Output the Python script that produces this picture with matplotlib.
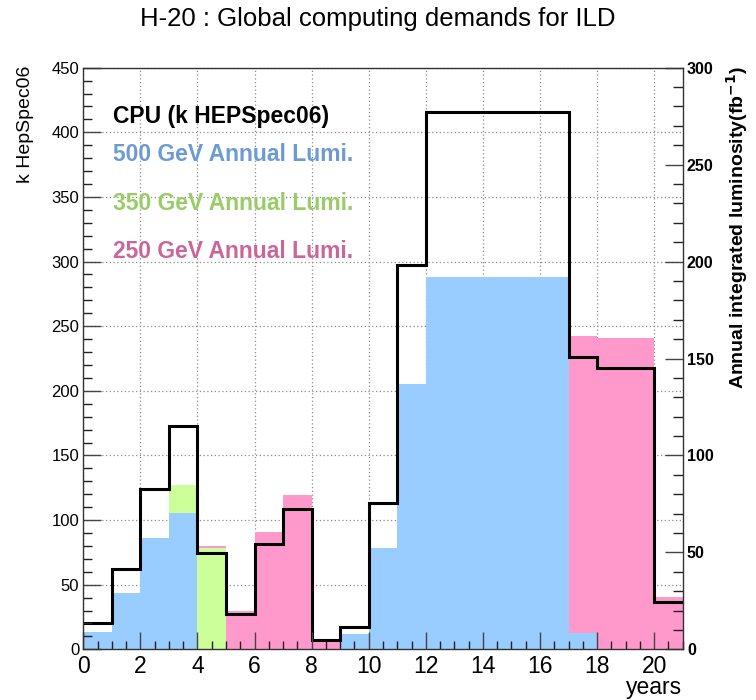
import numpy as np
import matplotlib.pyplot as plt
from matplotlib.ticker import MultipleLocator

plt.rcParams['font.family'] = ['Liberation Sans', 'DejaVu Sans']

# bin left edges (years) and per-bin values
years = list(range(21))
edges = list(range(22))

# annual integrated luminosity, fb^-1 (right axis)
lumi_500 = [9.1, 28.8, 57.4, 70.5, 0, 0, 0, 0, 0, 7.9, 52.3, 137.0,
            192.2, 192.2, 192.2, 192.2, 192.2, 8.6, 0, 0, 0]
lumi_350 = [0, 0, 0, 14.1, 52.4, 0, 0, 0, 0, 0, 0, 0,
            0, 0, 0, 0, 0, 0, 0, 0, 0]
lumi_250 = [0, 0, 0, 0, 0.7, 20.0, 60.3, 79.8, 4.5, 0, 0, 0,
            0, 0, 0, 0, 0, 152.8, 160.4, 160.4, 27.0]

# CPU, k HEPSpec06 (left axis)
cpu = [20.2, 62.3, 124.2, 172.7, 74.5, 27.6, 81.7, 108.6, 7.5, 17.3, 113.3, 297.4,
       415.6, 415.6, 415.6, 415.6, 415.6, 225.8, 217.3, 217.3, 36.7]

c_blue = '#99ccff'
c_green = '#ccff99'
c_pink = '#ff99cc'

fig = plt.figure(figsize=(7.56, 7.0), dpi=100)
rect = [0.1102, 0.0724, 0.7929, 0.8309]

# background layer: only the dotted grid
bg = fig.add_axes(rect, zorder=0)
bg.set_xlim(0, 21)
bg.set_ylim(0, 450)
bg.set_xticks(np.arange(0, 21, 2))
bg.set_yticks(np.arange(0, 451, 50))
bg.grid(True, color='#8c8c8c', linestyle=(0, (1, 2)), linewidth=0.9)
bg.tick_params(length=0, labelleft=False, labelbottom=False)
for s in bg.spines.values():
    s.set_visible(False)

# luminosity layer (right axis)
ax2 = fig.add_axes(rect, zorder=1)
ax2.patch.set_visible(False)
b350 = np.array(lumi_500)
b250 = b350 + np.array(lumi_350)
ax2.bar(years, lumi_500, width=1, align='edge', color=c_blue, linewidth=0, antialiased=False)
ax2.bar(years, lumi_350, width=1, align='edge', bottom=b350, color=c_green, linewidth=0, antialiased=False)
ax2.bar(years, lumi_250, width=1, align='edge', bottom=b250, color=c_pink, linewidth=0, antialiased=False)
ax2.set_xlim(0, 21)
ax2.set_ylim(0, 300)
ax2.xaxis.set_visible(False)
ax2.yaxis.tick_right()
ax2.yaxis.set_major_locator(MultipleLocator(50))
ax2.yaxis.set_minor_locator(MultipleLocator(10))
ax2.tick_params(axis='y', which='major', direction='in', length=13, width=1, color='#444444',
                labelsize=11.5, pad=3)
ax2.tick_params(axis='y', which='minor', direction='in', length=7, width=1, color='#222222')
for lab in ax2.get_yticklabels():
    lab.set_fontweight('bold')
for s in ax2.spines.values():
    s.set_visible(False)

# CPU layer (left axis) with the frame
ax = fig.add_axes(rect, zorder=2)
ax.patch.set_visible(False)
ax.stairs(cpu, edges, color='black', linewidth=2.2, baseline=None)
ax.set_xlim(0, 21)
ax.set_ylim(0, 450)
ax.xaxis.set_major_locator(MultipleLocator(2))
ax.xaxis.set_minor_locator(MultipleLocator(0.5))
ax.yaxis.set_major_locator(MultipleLocator(50))
ax.yaxis.set_minor_locator(MultipleLocator(10))
ax.tick_params(axis='both', which='major', direction='in', length=13, width=1, color='#444444')
ax.tick_params(axis='both', which='minor', direction='in', length=6.5, width=1, color='#222222')
ax.tick_params(axis='x', which='major', length=12, labelsize=16.5, pad=4)
ax.tick_params(axis='x', which='minor', length=5.5)
ax.tick_params(axis='y', labelsize=12, pad=3)
for s in ax.spines.values():
    s.set_linewidth(1)
    s.set_color('#333333')

ax.text(0.05, 0.9157, 'CPU (k HEPSpec06)', transform=ax.transAxes, fontsize=16.5,
        fontweight='bold', color='black', va='center')
ax.text(0.05, 0.8499, '500 GeV Annual Lumi.', transform=ax.transAxes, fontsize=16.5,
        fontweight='bold', color='#6b9bd2', va='center')
ax.text(0.05, 0.7669, '350 GeV Annual Lumi.', transform=ax.transAxes, fontsize=16.5,
        fontweight='bold', color='#99cc66', va='center')
ax.text(0.05, 0.6836, '250 GeV Annual Lumi.', transform=ax.transAxes, fontsize=16.5,
        fontweight='bold', color='#cc6699', va='center')

fig.text(0.5, 1 - 19 / 700, 'H-20 : Global computing demands for ILD', fontsize=18.5,
         ha='center', va='center')
fig.text(25 / 756, 1 - 66 / 700, 'k HepSpec06', fontsize=14, rotation=90,
         ha='center', va='top')
fig.text(737 / 756, 1 - 66 / 700, 'Annual integrated luminosity(fb$^{\\mathbf{-1}}$)',
         fontsize=14, fontweight='bold', rotation=90, ha='center', va='top')
fig.text(682 / 756, 1 - 694 / 700, 'years', fontsize=16.5, ha='right', va='baseline')

fig.savefig('out.png', dpi=100)
